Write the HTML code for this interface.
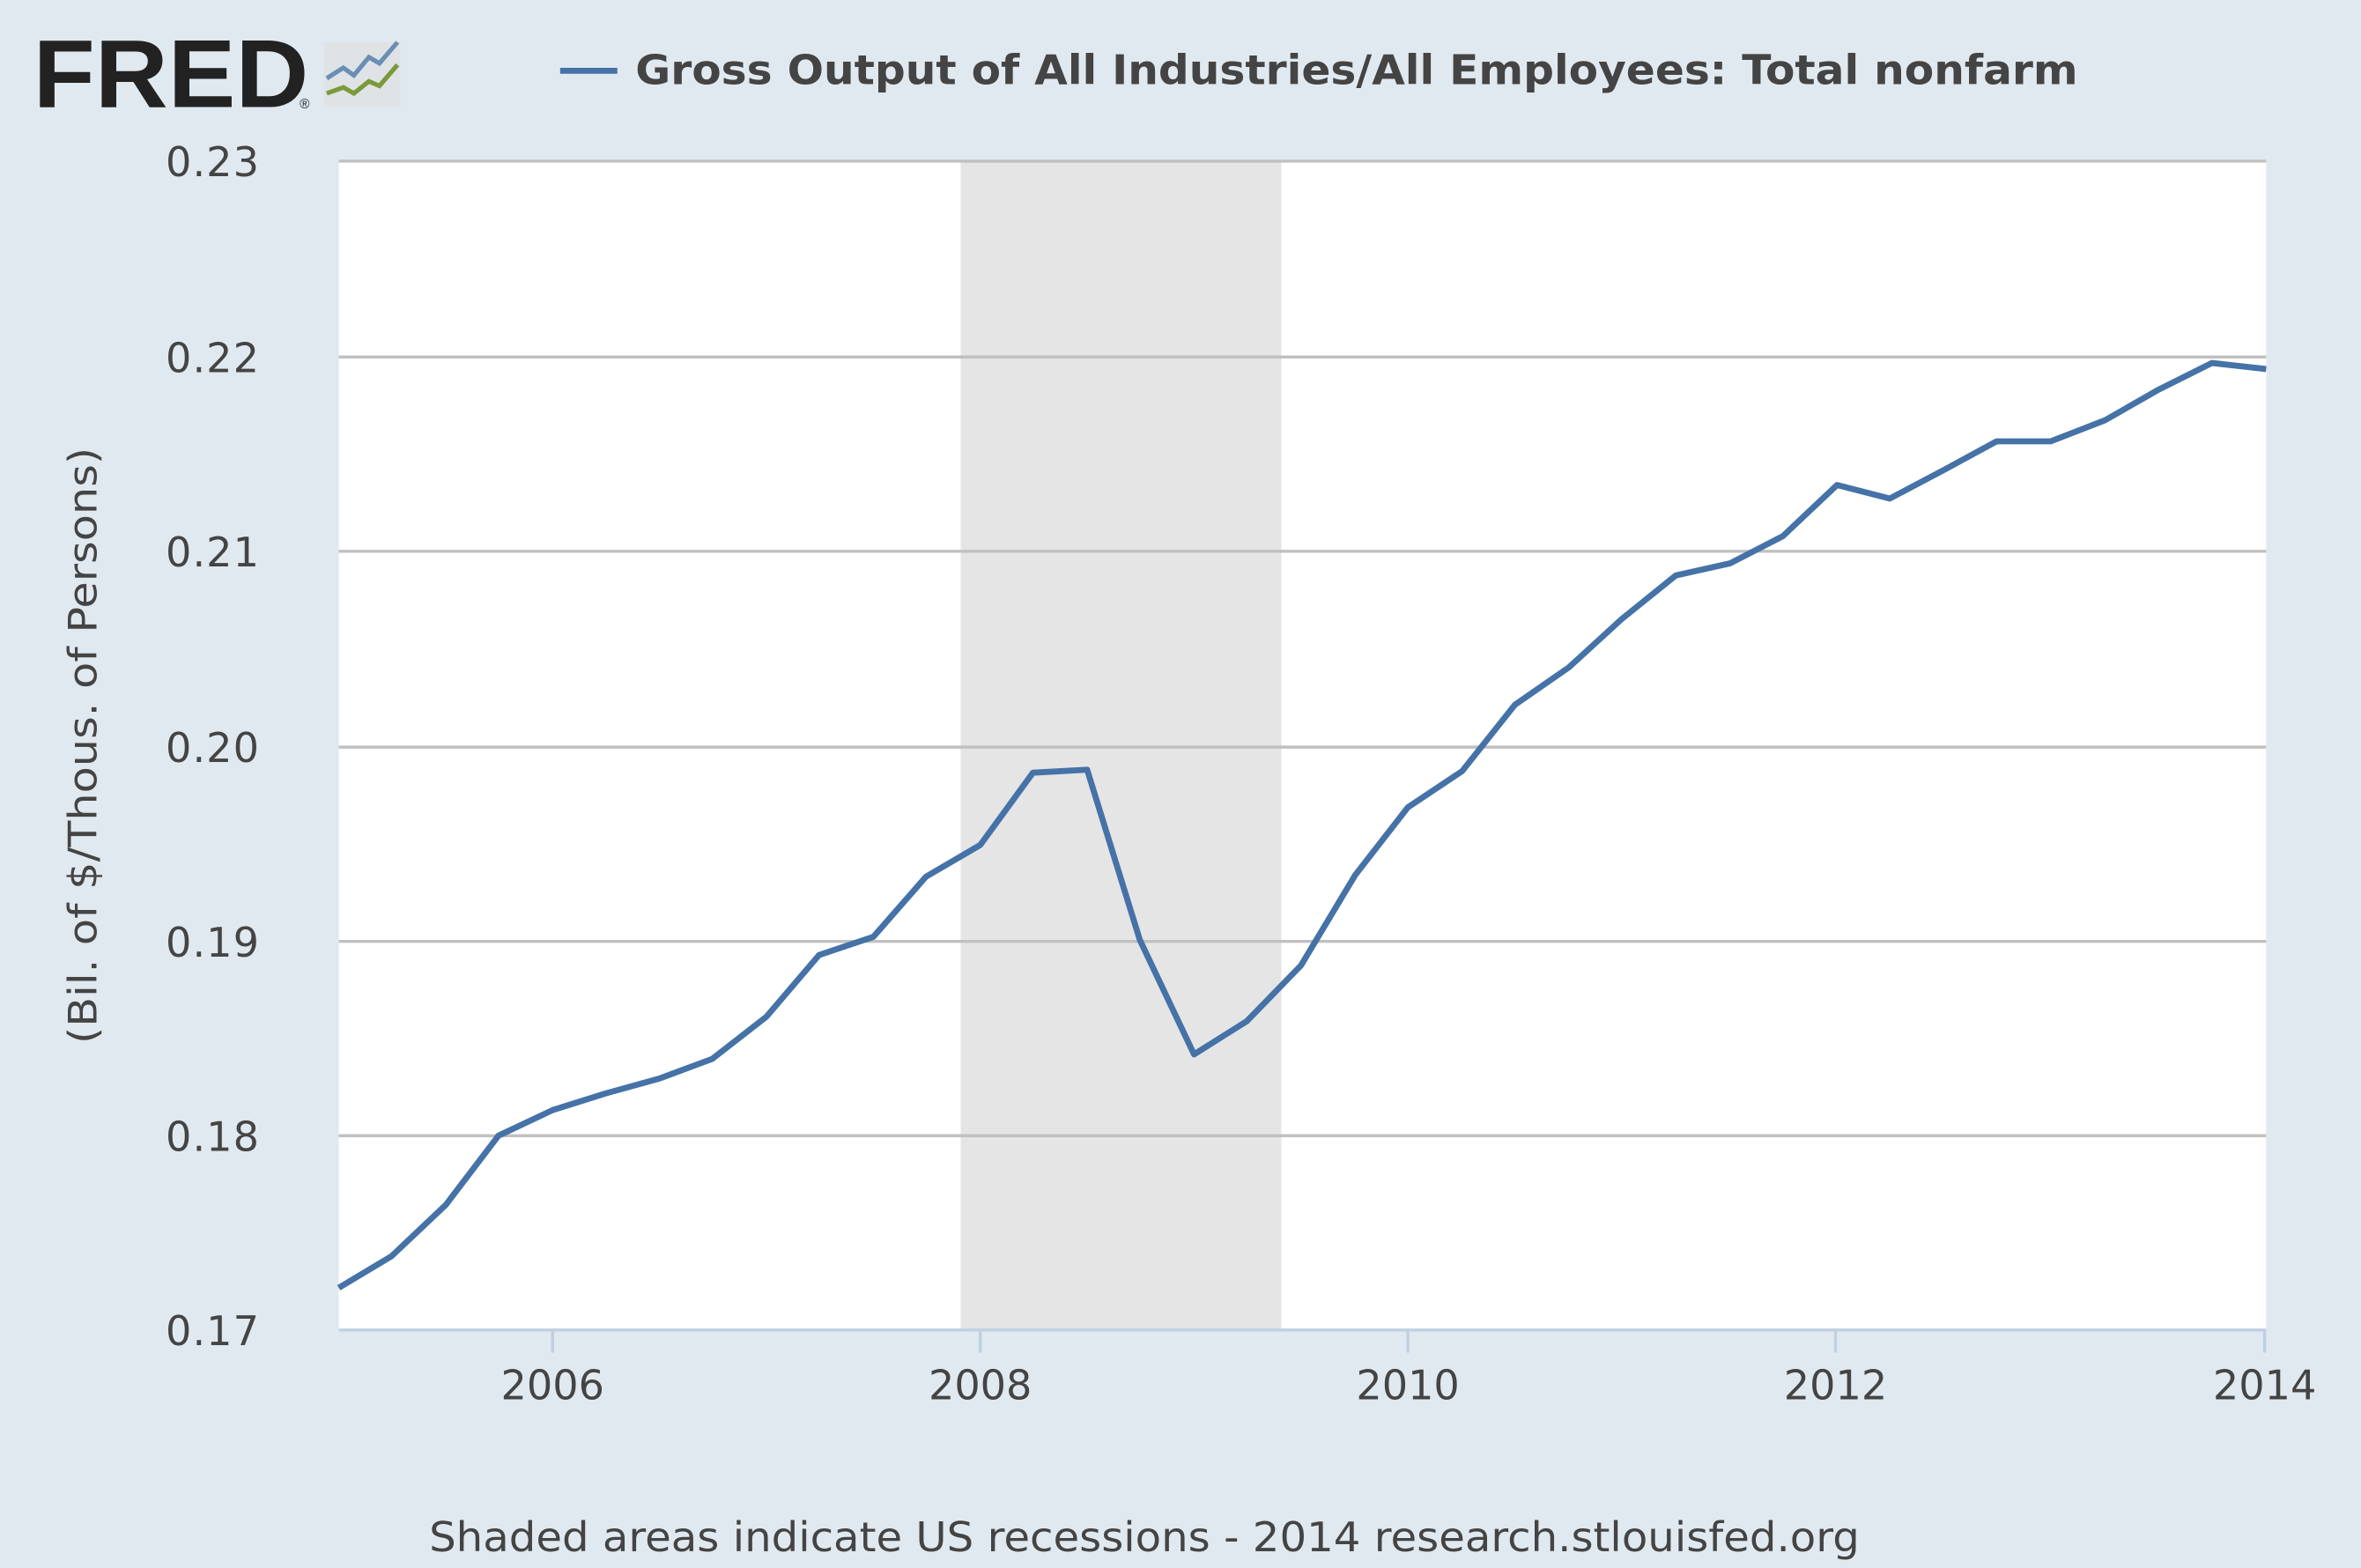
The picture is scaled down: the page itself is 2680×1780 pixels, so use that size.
<!DOCTYPE html>
<html><head><meta charset="utf-8"><style>
html,body{margin:0;padding:0;background:#e1e9f0;}
svg{display:block;}
</style></head><body>
<svg width="2680" height="1780" viewBox="0 0 1568 1041" preserveAspectRatio="none" xmlns="http://www.w3.org/2000/svg">
<rect x="0" y="0" width="1568" height="1041" fill="#e1e9f0"/>
<text x="22" y="71" font-family="Liberation Sans, sans-serif" font-weight="bold" font-size="64" fill="#222" textLength="183" lengthAdjust="spacingAndGlyphs">FRED</text>
<text x="199" y="72" font-family="Liberation Sans, sans-serif" font-size="9" fill="#222">®</text>
<rect x="215" y="28" width="51" height="43" fill="#dfe3e6"/>
<polyline points="217,52 228,45 235,50 245,38 252,42 264,28" fill="none" stroke="#6a8fb5" stroke-width="3"/>
<polyline points="217,62 228,58 235,62 245,54 252,57 264,43" fill="none" stroke="#7a9a3a" stroke-width="3"/>
<line x1="372" y1="47" x2="410" y2="47" stroke="#4572a7" stroke-width="4"/>
<text x="422" y="56" font-family="DejaVu Sans, sans-serif" font-weight="bold" font-size="27" fill="#444" textLength="958" lengthAdjust="spacingAndGlyphs">Gross Output of All Industries/All Employees: Total nonfarm</text>
<rect x="225" y="107" width="1280" height="776" fill="#ffffff"/>
<rect x="638" y="107" width="213" height="776" fill="#e5e5e5"/>
<g stroke="#c0c0c0" stroke-width="2">
<line x1="225" y1="107" x2="1505" y2="107"/>
<line x1="225" y1="237" x2="1505" y2="237"/>
<line x1="225" y1="366" x2="1505" y2="366"/>
<line x1="225" y1="496" x2="1505" y2="496"/>
<line x1="225" y1="625" x2="1505" y2="625"/>
<line x1="225" y1="754" x2="1505" y2="754"/>
</g>
<line x1="225" y1="883" x2="1505" y2="883" stroke="#c0d0e0" stroke-width="2"/>
<g stroke="#c0d0e0" stroke-width="2">
<line x1="367" y1="883" x2="367" y2="898"/>
<line x1="651" y1="883" x2="651" y2="898"/>
<line x1="935" y1="883" x2="935" y2="898"/>
<line x1="1219" y1="883" x2="1219" y2="898"/>
<line x1="1504" y1="883" x2="1504" y2="898"/>
</g>
<polyline fill="none" stroke="#4572a7" stroke-width="4" stroke-linejoin="round" points="225,855 260,834 296,800 331,754 367,737 402,726 438,716 473,703 509,675 544,634 580,622 615,582 651,561 686,513 722,511 757,624 793,700 828,678 864,641 900,581 935,536 971,512 1006,468 1042,443 1077,411 1113,382 1149,374 1184,356 1220,322 1255,331 1291,312 1326,293 1362,293 1398,279 1433,259 1469,241 1505,245"/>
<g font-family="DejaVu Sans, sans-serif" font-size="27" fill="#444" text-anchor="end">
<text x="172" y="117" textLength="62">0.23</text>
<text x="172" y="247" textLength="62">0.22</text>
<text x="172" y="376" textLength="62">0.21</text>
<text x="172" y="506" textLength="62">0.20</text>
<text x="172" y="635" textLength="62">0.19</text>
<text x="172" y="764" textLength="62">0.18</text>
<text x="172" y="893" textLength="62">0.17</text>
</g>
<g font-family="DejaVu Sans, sans-serif" font-size="27" fill="#444" text-anchor="middle">
<text x="367" y="929">2006</text>
<text x="651" y="929">2008</text>
<text x="935" y="929">2010</text>
<text x="1219" y="929">2012</text>
<text x="1504" y="929">2014</text>
</g>
<text transform="translate(64,495) rotate(-90)" font-family="DejaVu Sans, sans-serif" font-size="26" fill="#444" text-anchor="middle" textLength="396" lengthAdjust="spacingAndGlyphs">(Bil. of $/Thous. of Persons)</text>
<text x="285" y="1030" font-family="DejaVu Sans, sans-serif" font-size="27" fill="#444" textLength="950" lengthAdjust="spacingAndGlyphs">Shaded areas indicate US recessions - 2014 research.stlouisfed.org</text>
</svg>
</body></html>
